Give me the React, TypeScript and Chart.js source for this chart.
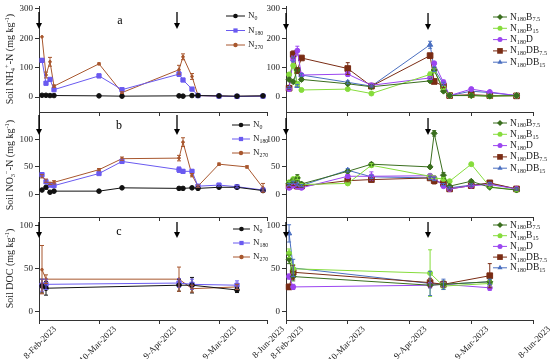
import React, { useEffect, useRef } from "react";
import { Chart, registerables } from "chart.js";
Chart.register(...registerables);

const FONT = "'Liberation Serif', 'Times New Roman', serif";
const W = 550;
const H = 359;

// ---------- axis / category data ----------
const dateLabels = ["8-Feb-2023", "10-Mar-2023", "9-Apr-2023", "9-Mar-2023", "8-Jun-2023"];
const leftTickDays = [0, 30, 60, 90, 114];
const rightTickDays = [0, 30, 60, 90, 120];
const sampleDays = [1.5, 3.5, 5.5, 7.5, 30, 41.5, 70, 72, 76.5, 79.5, 90, 99, 112];
const nitrateN270Days = [1.5, 3.5, 5.5, 7.5, 30, 41.5, 70, 72, 76.5, 79.5, 90, 104, 112];
const docDays = [1.5, 3.5, 70, 76.5, 99];
const arrowDays = [0, 69];

const ammoniumTicks = [0, 100, 200, 300];
const nitrateTicks = [0, 50, 100];
const docTicks = [0, 50, 100];

// ---------- panel a (NH4+-N) ----------
const ammoniumN0 = [6, 6, 5, 5, 4, 3, 4, 3, 5, 5, 4, 3, 4];
const ammoniumN180 = [125, 47, 60, 25, 72, 25, 78, 58, 27, 5, 3, 2, 3];
const ammoniumN180Err = [6, 5, 4, 3, 6, 3, 8, 5, 4, 0, 0, 0, 0];
const ammoniumN270 = [205, 75, 120, 37, 113, 15, 93, 137, 70, 5, 3, 2, 3];
const ammoniumN270Err = [0, 10, 15, 4, 3, 3, 15, 10, 10, 0, 0, 0, 0];

const ammoniumB75 = [60, 52, 92, 60, 45, 35, 55, 92, 20, 5, 5, 3, 5];
const ammoniumB75Err = [5, 4, 8, 5, 4, 3, 5, 8, 4, 0, 0, 0, 0];
const ammoniumB15 = [77, 107, 45, 24, 27, 12, 77, 90, 30, 5, 5, 3, 5];
const ammoniumB15Err = [5, 8, 5, 3, 3, 2, 8, 6, 4, 0, 0, 0, 0];
const ammoniumD = [27, 130, 158, 75, 78, 40, 65, 115, 50, 5, 27, 17, 5];
const ammoniumDErr = [3, 10, 15, 5, 8, 5, 5, 5, 8, 0, 5, 3, 0];
const ammoniumDB75 = [30, 145, 90, 133, 97, 37, 141, 53, 37, 5, 8, 5, 4];
const ammoniumDB75Err = [3, 12, 8, 5, 20, 3, 5, 5, 5, 0, 0, 0, 0];
const ammoniumDB15 = [32, 128, 38, 75, 50, 37, 178, 95, 45, 5, 20, 15, 5];
const ammoniumDB15Err = [3, 8, 5, 5, 5, 3, 12, 8, 5, 0, 0, 0, 0];

// ---------- panel b (NO3--N) ----------
const nitrateN0 = [8, 13, 4, 6, 6, 12, 11, 11, 12, 11, 13, 13, 7];
const nitrateN180 = [36, 23, 17, 16, 38, 60, 45, 42, 42, 15, 17, 14, 8];
const nitrateN180Err = [3, 2, 3, 3, 2, 3, 5, 3, 3, 2, 2, 2, 2];
const nitrateN270 = [33, 25, 20, 22, 45, 65, 66, 95, 35, 15, 55, 50, 12];
const nitrateN270Err = [3, 3, 2, 3, 2, 3, 5, 8, 3, 2, 2, 2, 8];

const nitrateB75 = [20, 26, 30, 19, 42, 55, 50, 111, 35, 15, 24, 13, 8];
const nitrateB75Err = [3, 3, 6, 3, 3, 3, 3, 5, 5, 2, 2, 2, 2];
const nitrateB15 = [22, 28, 30, 18, 20, 53, 33, 30, 28, 24, 55, 14, 8];
const nitrateB15Err = [2, 2, 3, 2, 2, 3, 3, 3, 3, 2, 2, 2, 2];
const nitrateD = [12, 16, 14, 12, 33, 33, 34, 30, 15, 10, 16, 18, 10];
const nitrateDErr = [2, 2, 2, 2, 3, 8, 3, 3, 2, 2, 2, 2, 2];
const nitrateDB75 = [15, 18, 15, 15, 25, 27, 30, 25, 20, 10, 16, 21, 10];
const nitrateDB75Err = [2, 2, 2, 2, 2, 3, 3, 6, 2, 2, 2, 2, 2];
const nitrateDB15 = [18, 22, 18, 16, 44, 32, 30, 28, 18, 12, 17, 20, 10];
const nitrateDB15Err = [2, 2, 2, 2, 3, 3, 3, 3, 2, 2, 2, 2, 2];

// ---------- panel c (DOC) ----------
const docN0 = [30, 27.5, 31, 31, 25.5];
const docN0Err = [8, 8, 7, 9, 3];
const docN180 = [31, 32, 33.5, 32, 31];
const docN180Err = [7, 6, 5, 6, 5];
const docN270 = [49, 38, 38, 27, 29];
const docN270Err = [28, 5, 14, 4, 3];

const docB75 = [61, 41, 31, 32, 35];
const docB75Err = [5, 5, 3, 4, 3];
const docB15 = [68, 50, 45, 30, 33];
const docB15Err = [5, 5, 27, 4, 3];
const docD = [41, 29, 31, 32, 28];
const docDErr = [3, 3, 3, 3, 3];
const docDB75 = [29, 46, 34, 32, 42];
const docDB75Err = [3, 8, 5, 3, 14];
const docDB15 = [91, 51, 33, 32, 35];
const docDB15Err = [10, 10, 14, 6, 3];

type Seg = [string, number]; // 0 normal, 1 subscript, 2 superscript

const STYLES: Record<string, { color: string; shape: string; r: number; label: Seg[] }> = {
  N0: { color: "#111111", shape: "circle", r: 2.3, label: [["N", 0], ["0", 1]] },
  N180: { color: "#6a5af0", shape: "rect", r: 3, label: [["N", 0], ["180", 1]] },
  N270: { color: "#a8572e", shape: "circle", r: 1.3, label: [["N", 0], ["270", 1]] },
  B75: { color: "#3a6e1e", shape: "rectRot", r: 3, label: [["N", 0], ["180", 1], ["B", 0], ["7.5", 1]] },
  B15: { color: "#86dc3c", shape: "circle", r: 2.5, label: [["N", 0], ["180", 1], ["B", 0], ["15", 1]] },
  D: { color: "#9b45f0", shape: "circle", r: 2.5, label: [["N", 0], ["180", 1], ["D", 0]] },
  DB75: { color: "#7a2c14", shape: "rect", r: 4, label: [["N", 0], ["180", 1], ["DB", 0], ["7.5", 1]] },
  DB15: { color: "#4a6fc0", shape: "triangle", r: 3, label: [["N", 0], ["180", 1], ["DB", 0], ["15", 1]] },
};

const ammoniumTitle: Seg[] = [["Soil NH", 0], ["4", 1], ["+", 2], ["-N (mg kg", 0], ["-1", 2], [")", 0]];
const nitrateTitle: Seg[] = [["Soil NO", 0], ["3", 1], ["\u2212", 2], ["-N (mg kg", 0], ["-1", 2], [")", 0]];
const docTitle: Seg[] = [["Soil DOC (mg kg", 0], ["-1", 2], [")", 0]];

interface SeriesSpec { key: string; days: number[]; values: number[]; err?: number[] }
interface PanelSpec {
  plot: { left: number; right: number; top: number; bottom: number };
  yWidth: number; xHeight: number;
  yMin: number; yMax: number; yTicks: number[];
  xMax: number; xTicks: number[]; showXLabels: boolean;
  arrowTop: number; arrowLen: number;
  title?: Seg[]; letter?: { text: string; x: number; y: number };
  legend: { x: number; y: number; dy: number; len: number; size: number };
  series: SeriesSpec[];
}

function drawSegs(ctx: CanvasRenderingContext2D, segs: Seg[], x: number, y: number, size: number) {
  ctx.textAlign = "left";
  ctx.textBaseline = "middle";
  let cx = x;
  for (const [t, m] of segs) {
    const fs = m ? size * 0.65 : size;
    ctx.font = `${fs}px ${FONT}`;
    const dy = m === 1 ? size * 0.3 : m === 2 ? -size * 0.32 : 0;
    ctx.fillText(t, cx, y + dy);
    cx += ctx.measureText(t).width;
  }
  return cx - x;
}
function measureSegs(ctx: CanvasRenderingContext2D, segs: Seg[], size: number) {
  let w = 0;
  for (const [t, m] of segs) {
    ctx.font = `${m ? size * 0.65 : size}px ${FONT}`;
    w += ctx.measureText(t).width;
  }
  return w;
}
function drawMarker(ctx: CanvasRenderingContext2D, shape: string, x: number, y: number, r: number) {
  ctx.beginPath();
  if (shape === "circle") ctx.arc(x, y, r, 0, Math.PI * 2);
  else if (shape === "rect") { const s = r * 0.707; ctx.rect(x - s, y - s, 2 * s, 2 * s); }
  else if (shape === "rectRot") { ctx.moveTo(x, y - r); ctx.lineTo(x + r, y); ctx.lineTo(x, y + r); ctx.lineTo(x - r, y); ctx.closePath(); }
  else if (shape === "triangle") { ctx.moveTo(x, y - r); ctx.lineTo(x + r * 0.866, y + r * 0.5); ctx.lineTo(x - r * 0.866, y + r * 0.5); ctx.closePath(); }
  ctx.fill();
}

const errorBarPlugin = {
  id: "errorBars",
  afterDatasetsDraw(chart: any) {
    const ctx = chart.ctx as CanvasRenderingContext2D;
    const ys = chart.scales.y;
    chart.data.datasets.forEach((ds: any, di: number) => {
      if (!ds.err) return;
      const meta = chart.getDatasetMeta(di);
      ctx.save();
      ctx.strokeStyle = ds.borderColor;
      ctx.lineWidth = 1;
      meta.data.forEach((pt: any, i: number) => {
        const e = ds.err[i];
        if (!e) return;
        const v = ds.data[i].y;
        const yt = ys.getPixelForValue(v + e);
        const yb = ys.getPixelForValue(v - e);
        ctx.beginPath();
        ctx.moveTo(pt.x, yt); ctx.lineTo(pt.x, yb);
        ctx.moveTo(pt.x - 2, yt); ctx.lineTo(pt.x + 2, yt);
        ctx.moveTo(pt.x - 2, yb); ctx.lineTo(pt.x + 2, yb);
        ctx.stroke();
      });
      ctx.restore();
    });
  },
};

function decorPlugin(p: PanelSpec) {
  return {
    id: "decor",
    afterDraw(chart: any) {
      const ctx = chart.ctx as CanvasRenderingContext2D;
      const area = chart.chartArea;
      const xs = chart.scales.x;
      const ys = chart.scales.y;
      ctx.save();
      // y tick labels
      ctx.fillStyle = "#222";
      ctx.font = `9px ${FONT}`;
      ctx.textAlign = "right";
      ctx.textBaseline = "middle";
      for (const v of p.yTicks) {
        ctx.fillText(String(v), area.left - 6, ys.getPixelForValue(v));
      }
      // arrows marking fertilisation
      ctx.strokeStyle = "#000";
      ctx.fillStyle = "#000";
      ctx.lineWidth = 1.3;
      for (const d of arrowDays) {
        const x = xs.getPixelForValue(d);
        const y0 = area.top + p.arrowTop;
        const y1 = y0 + p.arrowLen;
        ctx.beginPath(); ctx.moveTo(x, y0); ctx.lineTo(x, y1 - 4); ctx.stroke();
        ctx.beginPath(); ctx.moveTo(x - 3, y1 - 6); ctx.lineTo(x + 3, y1 - 6); ctx.lineTo(x, y1); ctx.closePath(); ctx.fill();
      }
      if (p.letter) {
        ctx.font = `12px ${FONT}`;
        ctx.textAlign = "center";
        ctx.textBaseline = "middle";
        ctx.fillText(p.letter.text, p.letter.x, p.letter.y);
      }
      if (p.title) {
        ctx.save();
        ctx.fillStyle = "#222";
        ctx.translate(10, (area.top + area.bottom) / 2);
        ctx.rotate(-Math.PI / 2);
        const w = measureSegs(ctx, p.title, 10);
        drawSegs(ctx, p.title, -w / 2, 0, 10);
        ctx.restore();
      }
      const L = p.legend;
      p.series.forEach((s, i) => {
        const st = STYLES[s.key];
        const y = L.y + i * L.dy;
        const x = L.x;
        ctx.strokeStyle = st.color;
        ctx.fillStyle = st.color;
        ctx.lineWidth = 1;
        ctx.beginPath(); ctx.moveTo(x, y); ctx.lineTo(x + L.len, y); ctx.stroke();
        drawMarker(ctx, st.shape, x + L.len / 2, y, Math.max(st.r, 2.2));
        ctx.fillStyle = "#222";
        drawSegs(ctx, st.label, x + L.len + 3, y, L.size);
      });
      ctx.restore();
    },
  };
}

function makeConfig(p: PanelSpec): any {
  const datasets = p.series.map((s) => {
    const st = STYLES[s.key];
    return {
      data: s.days.map((d, i) => ({ x: d, y: s.values[i] })),
      borderColor: st.color,
      backgroundColor: st.color,
      borderWidth: 1,
      pointStyle: st.shape,
      pointRadius: st.r,
      pointHoverRadius: st.r,
      pointBorderWidth: 1,
      tension: 0,
      fill: false,
      clip: false,
      err: s.err,
    };
  });
  const tickFont = { family: FONT, size: 9 };
  const pad = {
    left: p.plot.left - p.yWidth,
    right: W - p.plot.right,
    top: p.plot.top,
    bottom: H - p.plot.bottom - p.xHeight,
  };
  return {
    type: "line",
    data: { datasets },
    options: {
      responsive: false,
      maintainAspectRatio: false,
      animation: false,
      events: [],
      layout: { padding: pad },
      plugins: { legend: { display: false }, tooltip: { enabled: false } },
      scales: {
        x: {
          type: "linear",
          min: 0,
          max: p.xMax,
          bounds: "data",
          afterBuildTicks: (s: any) => { s.ticks = p.xTicks.map((v) => ({ value: v })); },
          afterFit: (s: any) => { s.height = p.xHeight; s.paddingLeft = 0; s.paddingRight = 0; },
          ticks: {
            display: p.showXLabels,
            autoSkip: false,
            maxRotation: 45,
            minRotation: 45,
            labelOffset: 16,
            padding: 0,
            font: tickFont,
            color: "#222",
            callback: (_v: any, i: number) => dateLabels[i],
          },
          grid: { drawOnChartArea: false, drawTicks: true, tickLength: 4, color: "#333" },
          border: { color: "#333", width: 1 },
        },
        y: {
          min: p.yMin,
          max: p.yMax,
          bounds: "data",
          afterBuildTicks: (s: any) => { s.ticks = p.yTicks.map((v) => ({ value: v })); },
          afterFit: (s: any) => { s.width = p.yWidth; s.paddingTop = 0; s.paddingBottom = 0; },
          ticks: { display: false },
          grid: { drawOnChartArea: false, drawTicks: true, tickLength: 4, color: "#333" },
          border: { color: "#333", width: 1 },
        },
      },
    },
    plugins: [errorBarPlugin, decorPlugin(p)],
  };
}

const LEFT_X = { left: 39, right: 267 };
const RIGHT_X = { left: 286, right: 533 };
const ROW_A = { top: 6, bottom: 112 };
const ROW_B = { top: 113, bottom: 217 };
const ROW_C = { top: 217, bottom: 320 };

const PANELS: PanelSpec[] = [
  {
    plot: { ...LEFT_X, ...ROW_A }, yWidth: 20, xHeight: 6,
    yMin: -51, yMax: 310, yTicks: ammoniumTicks, xMax: 114, xTicks: leftTickDays, showXLabels: false,
    arrowTop: 6, arrowLen: 17, title: ammoniumTitle, letter: { text: "a", x: 120, y: 21 },
    legend: { x: 226, y: 16, dy: 14.5, len: 19, size: 9 },
    series: [
      { key: "N0", days: sampleDays, values: ammoniumN0 },
      { key: "N180", days: sampleDays, values: ammoniumN180, err: ammoniumN180Err },
      { key: "N270", days: sampleDays, values: ammoniumN270, err: ammoniumN270Err },
    ],
  },
  {
    plot: { ...LEFT_X, ...ROW_B }, yWidth: 20, xHeight: 6,
    yMin: -41, yMax: 148, yTicks: nitrateTicks, xMax: 114, xTicks: leftTickDays, showXLabels: false,
    arrowTop: 2, arrowLen: 20, title: nitrateTitle, letter: { text: "b", x: 119, y: 126 },
    legend: { x: 232, y: 125, dy: 14, len: 18, size: 9 },
    series: [
      { key: "N0", days: sampleDays, values: nitrateN0 },
      { key: "N180", days: sampleDays, values: nitrateN180, err: nitrateN180Err },
      { key: "N270", days: nitrateN270Days, values: nitrateN270, err: nitrateN270Err },
    ],
  },
  {
    plot: { ...LEFT_X, ...ROW_C }, yWidth: 20, xHeight: 39,
    yMin: -9.3, yMax: 110, yTicks: docTicks, xMax: 114, xTicks: leftTickDays, showXLabels: true,
    arrowTop: 5, arrowLen: 16, title: docTitle, letter: { text: "c", x: 119, y: 232 },
    legend: { x: 233, y: 229, dy: 14, len: 17, size: 9 },
    series: [
      { key: "N0", days: docDays, values: docN0, err: docN0Err },
      { key: "N180", days: docDays, values: docN180, err: docN180Err },
      { key: "N270", days: docDays, values: docN270, err: docN270Err },
    ],
  },
  {
    plot: { ...RIGHT_X, ...ROW_A }, yWidth: 20, xHeight: 6,
    yMin: -51, yMax: 310, yTicks: ammoniumTicks, xMax: 120, xTicks: rightTickDays, showXLabels: false,
    arrowTop: 7, arrowLen: 17,
    legend: { x: 493, y: 17, dy: 11.3, len: 14, size: 9.5 },
    series: [
      { key: "B75", days: sampleDays, values: ammoniumB75, err: ammoniumB75Err },
      { key: "B15", days: sampleDays, values: ammoniumB15, err: ammoniumB15Err },
      { key: "D", days: sampleDays, values: ammoniumD, err: ammoniumDErr },
      { key: "DB75", days: sampleDays, values: ammoniumDB75, err: ammoniumDB75Err },
      { key: "DB15", days: sampleDays, values: ammoniumDB15, err: ammoniumDB15Err },
    ],
  },
  {
    plot: { ...RIGHT_X, ...ROW_B }, yWidth: 20, xHeight: 6,
    yMin: -41, yMax: 148, yTicks: nitrateTicks, xMax: 120, xTicks: rightTickDays, showXLabels: false,
    arrowTop: 5, arrowLen: 17,
    legend: { x: 493, y: 123, dy: 11.3, len: 14, size: 9.5 },
    series: [
      { key: "B75", days: sampleDays, values: nitrateB75, err: nitrateB75Err },
      { key: "B15", days: sampleDays, values: nitrateB15, err: nitrateB15Err },
      { key: "D", days: sampleDays, values: nitrateD, err: nitrateDErr },
      { key: "DB75", days: sampleDays, values: nitrateDB75, err: nitrateDB75Err },
      { key: "DB15", days: sampleDays, values: nitrateDB15, err: nitrateDB15Err },
    ],
  },
  {
    plot: { ...RIGHT_X, ...ROW_C }, yWidth: 20, xHeight: 39,
    yMin: -9.3, yMax: 110, yTicks: docTicks, xMax: 120, xTicks: rightTickDays, showXLabels: true,
    arrowTop: 5, arrowLen: 16,
    legend: { x: 493, y: 225, dy: 10.7, len: 14, size: 9.5 },
    series: [
      { key: "B75", days: docDays, values: docB75, err: docB75Err },
      { key: "B15", days: docDays, values: docB15, err: docB15Err },
      { key: "D", days: docDays, values: docD, err: docDErr },
      { key: "DB75", days: docDays, values: docDB75, err: docDB75Err },
      { key: "DB15", days: docDays, values: docDB15, err: docDB15Err },
    ],
  },
];

function Panel({ spec }: { spec: PanelSpec }) {
  const ref = useRef<HTMLCanvasElement>(null);
  useEffect(() => {
    if (!ref.current) return;
    const chart = new Chart(ref.current, makeConfig(spec));
    return () => chart.destroy();
  }, [spec]);
  return (
    <canvas
      ref={ref}
      width={W}
      height={H}
      style={{ position: "absolute", left: 0, top: 0, width: W, height: H }}
    />
  );
}

export default function App() {
  return (
    <div style={{ position: "absolute", left: 0, top: 0, width: W, height: H, background: "#fff", overflow: "hidden" }}>
      {PANELS.map((p, i) => (
        <Panel key={i} spec={p} />
      ))}
    </div>
  );
}
